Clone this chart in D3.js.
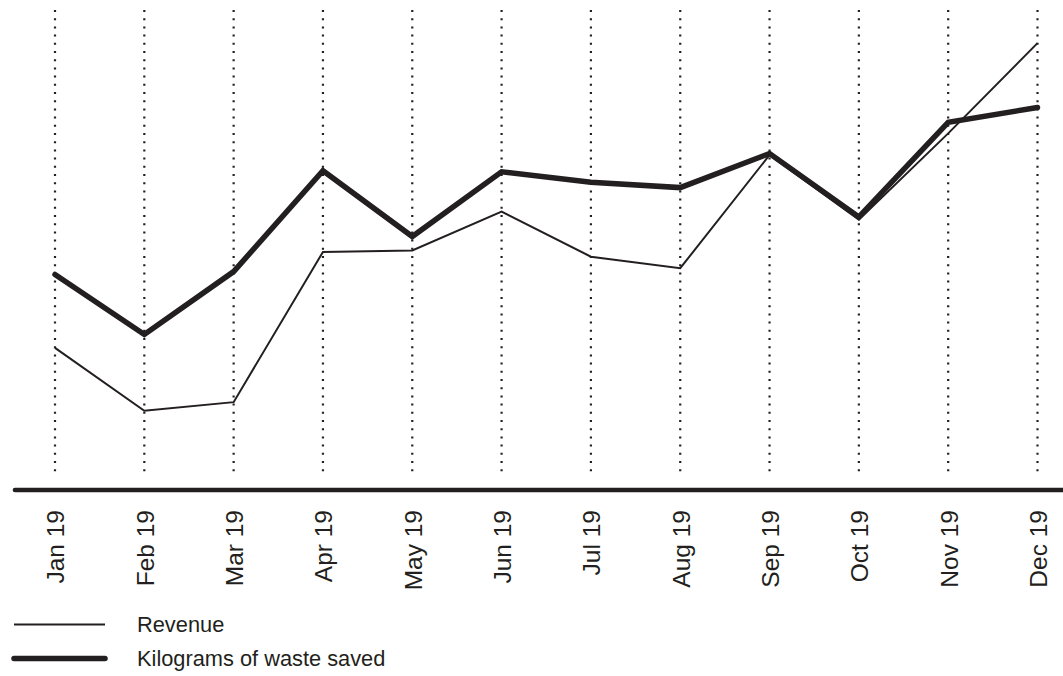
<!DOCTYPE html>
<html>
<head>
<meta charset="utf-8">
<script src="https://cdn.jsdelivr.net/npm/d3@7"></script>
<style>
  html, body { margin: 0; padding: 0; background: #fff; }
  svg { display: block; }
  text { font-family: "Liberation Sans", Arial, sans-serif; fill: #231f20; }
</style>
</head>
<body>
<svg id="chart" width="1063" height="676"></svg>
<script>
const months = ["Jan 19","Feb 19","Mar 19","Apr 19","May 19","Jun 19","Jul 19","Aug 19","Sep 19","Oct 19","Nov 19","Dec 19"];
const revenue = [29.6, 16.5, 18.3, 49.6, 49.9, 58.0, 48.6, 46.2, 69.8, 56.3, 74.3, 93.1];
const waste   = [44.9, 32.4, 45.5, 66.5, 52.8, 66.3, 64.1, 63.0, 70.1, 56.9, 76.6, 79.7];
const seriesNames = ["Revenue", "Kilograms of waste saved"];

const ink = "#231f20";
const svg = d3.select("#chart");

const x = d3.scalePoint().domain(months).range([55, 1037.5]);
const y = d3.scaleLinear().domain([0, 100]).range([490, 10]);

// dotted vertical gridlines
svg.append("g").selectAll("line").data(months).join("line")
  .attr("x1", d => x(d)).attr("x2", d => x(d))
  .attr("y1", 10).attr("y2", 474)
  .attr("stroke", ink).attr("stroke-width", 2.2)
  .attr("stroke-dasharray", "2 6.2");

// baseline axis
const xAxis = d3.axisBottom(x).tickSize(0).tickPadding(0);
const gx = svg.append("g").attr("transform", "translate(0,490)").call(xAxis);
gx.select(".domain").remove();
gx.append("line").attr("x1", 15).attr("x2", 1063).attr("y1", 0).attr("y2", 0)
  .attr("stroke", ink).attr("stroke-width", 4.6).attr("stroke-linecap", "round");
gx.selectAll(".tick text")
  .attr("transform", "translate(0,20) rotate(-90)")
  .attr("x", 0).attr("y", 0).attr("dy", "0.36em")
  .attr("text-anchor", "end")
  .style("font-size", "24.5px")
  .style("font-family", "'Liberation Sans', Arial, sans-serif")
  .attr("fill", ink);

// lines
const line = d3.line().x((d, i) => x(months[i])).y(d => y(d));
svg.append("path").datum(revenue).attr("d", line)
  .attr("fill", "none").attr("stroke", ink).attr("stroke-width", 2)
  .attr("stroke-linejoin", "miter");
svg.append("path").datum(waste).attr("d", line)
  .attr("fill", "none").attr("stroke", ink).attr("stroke-width", 5.5)
  .attr("stroke-linejoin", "miter").attr("stroke-linecap", "round");

// legend
const legend = svg.append("g");
const widths = [2, 5.5];
seriesNames.forEach((name, i) => {
  const ly = 624.5 + i * 34;
  legend.append("line").attr("x1", 14).attr("x2", 105).attr("y1", ly).attr("y2", ly)
    .attr("stroke", ink).attr("stroke-width", widths[i]).attr("stroke-linecap", i ? "round" : "butt");
  legend.append("text").attr("x", 137).attr("y", ly).attr("dy", "0.35em")
    .style("font-size", "21.8px").text(name);
});
</script>
</body>
</html>
